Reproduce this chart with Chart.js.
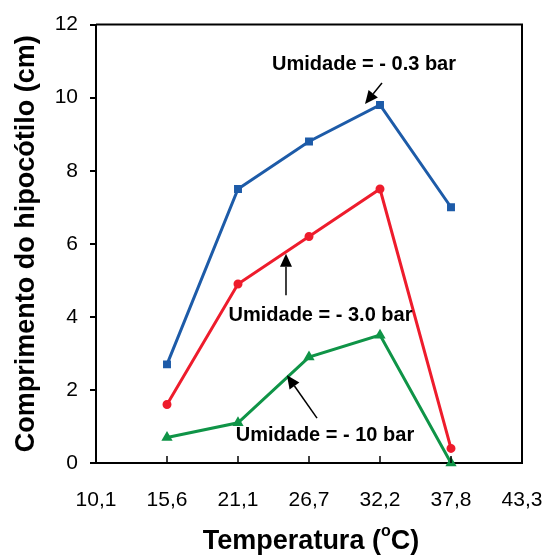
<!DOCTYPE html>
<html>
<head>
<meta charset="utf-8">
<script src="https://cdn.jsdelivr.net/npm/chart.js@4.4.1/dist/chart.umd.min.js"></script>
<style>
  body { margin: 0; background: #fff; }
  #caixa { width: 544px; height: 556px; }
</style>
</head>
<body>
<div id="caixa"><canvas id="grafico"></canvas></div>
<script>
// Dados
const temperaturas = ['10,1', '15,6', '21,1', '26,7', '32,2', '37,8', '43,3'];
const umidade03 = [null, 2.7, 7.5, 8.8, 9.8, 7.0, null];
const umidade30 = [null, 1.6, 4.9, 6.2, 7.5, 0.4, null];
const umidade10 = [null, 0.7, 1.1, 2.9, 3.5, 0.0, null];

// Anotações (em unidades do gráfico: índice da categoria, valor)
const notasTexto = ['Umidade = - 0.3 bar', 'Umidade = - 3.0 bar', 'Umidade = - 10 bar'];
const notasPos = [[3.775, 10.92], [3.162, 4.04], [3.225, 0.765]];
const setasInicio = [[4.028, 10.40], [2.676, 4.59], [3.113, 1.23]];
const setasFim = [[3.789, 9.83], [2.676, 5.73], [2.69, 2.40]];

const fonte = 'Arial, "Liberation Sans", sans-serif';

const extras = {
    id: 'extras',
    afterDatasetsDraw(chart) {
        const ctx = chart.ctx;
        const { left, right, top, bottom } = chart.chartArea;
        const x = chart.scales.x;
        const y = chart.scales.y;

        ctx.save();
        // moldura superior e direita
        ctx.strokeStyle = '#000';
        ctx.lineWidth = 2;
        ctx.beginPath();
        ctx.moveTo(left, top);
        ctx.lineTo(right, top);
        ctx.lineTo(right, bottom);
        ctx.stroke();

        // marcas do eixo x para dentro
        ctx.lineWidth = 1.5;
        temperaturas.forEach((t, i) => {
            const px = x.getPixelForValue(i);
            ctx.beginPath();
            ctx.moveTo(px, bottom);
            ctx.lineTo(px, bottom - 7);
            ctx.stroke();
        });

        // setas
        ctx.fillStyle = '#000';
        setasInicio.forEach((ini, i) => {
            const x1 = x.getPixelForValue(ini[0]);
            const y1 = y.getPixelForValue(ini[1]);
            const x2 = x.getPixelForValue(setasFim[i][0]);
            const y2 = y.getPixelForValue(setasFim[i][1]);
            const ang = Math.atan2(y2 - y1, x2 - x1);
            const comp = 13, larg = 6;
            const bx = x2 - comp * Math.cos(ang);
            const by = y2 - comp * Math.sin(ang);
            ctx.lineWidth = 1.5;
            ctx.beginPath();
            ctx.moveTo(x1, y1);
            ctx.lineTo(bx, by);
            ctx.stroke();
            ctx.beginPath();
            ctx.moveTo(x2, y2);
            ctx.lineTo(bx + larg * Math.sin(ang), by - larg * Math.cos(ang));
            ctx.lineTo(bx - larg * Math.sin(ang), by + larg * Math.cos(ang));
            ctx.closePath();
            ctx.fill();
        });

        // textos das anotações
        ctx.font = 'bold 20px ' + fonte;
        ctx.textAlign = 'center';
        ctx.textBaseline = 'middle';
        notasTexto.forEach((txt, i) => {
            ctx.fillText(txt, x.getPixelForValue(notasPos[i][0]), y.getPixelForValue(notasPos[i][1]));
        });

        // título do eixo x com "o" sobrescrito
        const cx = (left + right) / 2 + 2;
        const cy = 542;
        ctx.font = 'bold 27px ' + fonte;
        const p1 = 'Temperatura (', p3 = 'C)';
        const w1 = ctx.measureText(p1).width;
        const w3 = ctx.measureText(p3).width;
        ctx.font = 'bold 16px ' + fonte;
        const w2 = ctx.measureText('o').width;
        let sx = cx - (w1 + w2 + w3) / 2;
        ctx.textAlign = 'left';
        ctx.font = 'bold 27px ' + fonte;
        ctx.fillText(p1, sx, cy);
        ctx.font = 'bold 16px ' + fonte;
        ctx.fillText('o', sx + w1, cy - 10);
        ctx.font = 'bold 27px ' + fonte;
        ctx.fillText(p3, sx + w1 + w2, cy);
        ctx.restore();
    }
};

const ctx = document.getElementById('grafico').getContext('2d');

new Chart(ctx, {
    type: 'line',
    data: {
        labels: temperaturas,
        datasets: [
            {
                label: 'Umidade = - 0.3 bar',
                data: umidade03,
                borderColor: '#1d5ba8',
                backgroundColor: '#1d5ba8',
                borderWidth: 3,
                pointStyle: 'rect',
                pointRadius: 3.5,
                clip: false
            },
            {
                label: 'Umidade = - 3.0 bar',
                data: umidade30,
                borderColor: '#ee1c2c',
                backgroundColor: '#ee1c2c',
                borderWidth: 3,
                pointStyle: 'circle',
                pointRadius: 3,
                clip: false
            },
            {
                label: 'Umidade = - 10 bar',
                data: umidade10,
                borderColor: '#0f9447',
                backgroundColor: '#0f9447',
                borderWidth: 3,
                pointStyle: 'triangle',
                pointRadius: 3.5,
                clip: false
            }
        ]
    },
    options: {
        responsive: true,
        maintainAspectRatio: false,
        animation: false,
        layout: { padding: { top: 23, right: 22, bottom: 0, left: 0 } },
        plugins: {
            legend: { display: false },
            tooltip: { enabled: false }
        },
        scales: {
            x: {
                type: 'category',
                offset: false,
                grid: { display: false },
                border: { display: true, color: '#000', width: 2 },
                ticks: {
                    color: '#000',
                    font: { family: fonte, size: 21 },
                    padding: 17,
                    maxRotation: 0,
                    autoSkip: false
                },
                afterFit: s => {
                    s.height = 93;
                    s.paddingLeft = 0;
                    s.paddingRight = 0;
                }
            },
            y: {
                min: 0,
                max: 12,
                ticks: {
                    stepSize: 2,
                    color: '#000',
                    font: { family: fonte, size: 21 },
                    padding: 12
                },
                grid: {
                    drawOnChartArea: false,
                    drawTicks: true,
                    tickLength: 6,
                    color: '#000',
                    lineWidth: 2
                },
                border: { display: true, color: '#000', width: 2 },
                title: {
                    display: true,
                    text: 'Comprimento do hipocótilo (cm)',
                    color: '#000',
                    font: { family: fonte, size: 27, weight: 'bold' },
                    padding: { top: 10, bottom: 0 }
                },
                afterFit: s => { s.width = 96; }
            }
        }
    },
    plugins: [extras]
});
</script>
</body>
</html>
